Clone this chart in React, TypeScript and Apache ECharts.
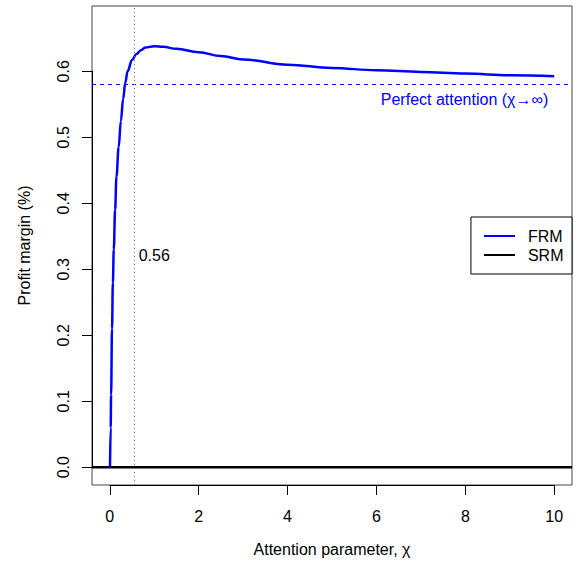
import React, { useEffect, useRef } from "react";
import * as echarts from "echarts";

// Attention parameter (chi) and FRM profit margin
const chi = [0.005, 0.02, 0.03, 0.05, 0.07, 0.09, 0.12, 0.15, 0.2, 0.25, 0.3, 0.35, 0.4, 0.5, 0.6, 0.7, 0.8, 1.0, 1.2, 1.5, 2, 2.5, 3, 4, 5, 6, 7, 8, 9, 10];
const frm = [0.0, 0.06, 0.11, 0.21, 0.28, 0.33, 0.39, 0.44, 0.485, 0.525, 0.558, 0.583, 0.6, 0.617, 0.626, 0.632, 0.636, 0.638, 0.637, 0.634, 0.629, 0.623, 0.618, 0.61, 0.605, 0.6015, 0.599, 0.5965, 0.594, 0.5924];
// SRM is zero everywhere (drawn across the full plot range)
const srmChi = [-0.4, 10.4];
const srm = [0, 0];

const perfectAttention = 0.579;
const cutoff = 0.56;
const cutoffLabelY = 0.321;
const perfectLabelY = 0.557;

const xTicks = { min: 0, max: 10, interval: 2 };
const yTicks = { min: 0, max: 0.6, interval: 0.1 };
const xRange = { min: -0.4, max: 10.4 };
const yRange = { min: -0.0269, max: 0.6989 };

const FONT = "'Liberation Sans', Arial, Helvetica, sans-serif";
const FS = 16;

export default function App() {
  const ref = useRef<HTMLDivElement>(null);
  useEffect(() => {
    if (!ref.current) return;
    const chart = echarts.init(ref.current, undefined, { renderer: "svg" });
    const frmData = chi.map((c, i) => [c, frm[i]]);
    const srmData = srmChi.map((c, i) => [c, srm[i]]);

    // plot box
    const boxL = 92, boxT = 6, boxW = 480, boxH = 479;
    const pxX = boxW / (xRange.max - xRange.min);
    const pxY = boxH / (yRange.max - yRange.min);

    chart.setOption({
      animation: false,
      textStyle: { fontFamily: FONT, fontSize: FS, color: "#000" },
      grid: [
        { left: boxL, top: boxT, width: boxW, height: boxH, show: true, borderColor: "#444", borderWidth: 1, backgroundColor: "transparent" },
        { left: boxL + (xTicks.min - xRange.min) * pxX, top: boxT, width: (xTicks.max - xTicks.min) * pxX, height: boxH },
        { left: boxL, top: boxT + (yRange.max - yTicks.max) * pxY, width: boxW, height: (yTicks.max - yTicks.min) * pxY },
      ],
      xAxis: [
        {
          gridIndex: 0, type: "value", min: xRange.min, max: xRange.max,
          axisLine: { show: false }, axisTick: { show: false }, axisLabel: { show: false }, splitLine: { show: false },
          name: "Attention parameter, χ", nameLocation: "middle", nameGap: 56,
          nameTextStyle: { fontFamily: FONT, fontSize: FS, color: "#000" },
        },
        {
          gridIndex: 1, type: "value", min: xTicks.min, max: xTicks.max, interval: xTicks.interval, position: "bottom",
          axisLine: { show: true, lineStyle: { color: "#000", width: 1 } },
          axisTick: { show: true, length: 10, lineStyle: { color: "#000", width: 1 } },
          axisLabel: { show: true, margin: 23, fontFamily: FONT, fontSize: FS, color: "#000" },
          splitLine: { show: false },
        },
        { gridIndex: 2, type: "value", show: false, min: 0, max: 1 },
      ],
      yAxis: [
        {
          gridIndex: 0, type: "value", min: yRange.min, max: yRange.max,
          axisLine: { show: false }, axisTick: { show: false }, axisLabel: { show: false }, splitLine: { show: false },
          name: "Profit margin (%)", nameLocation: "middle", nameGap: 60, nameRotate: 90,
          nameTextStyle: { fontFamily: FONT, fontSize: FS, color: "#000" },
        },
        { gridIndex: 1, type: "value", show: false, min: 0, max: 1 },
        {
          gridIndex: 2, type: "value", min: yTicks.min, max: yTicks.max, interval: yTicks.interval, position: "left",
          axisLine: { show: true, lineStyle: { color: "#000", width: 1 } },
          axisTick: { show: true, length: 10, lineStyle: { color: "#000", width: 1 } },
          axisLabel: { show: true, rotate: 90, margin: 21, fontFamily: FONT, fontSize: FS, color: "#000", formatter: (v: number) => v.toFixed(1) },
          splitLine: { show: false },
        },
      ],
      legend: {
        data: ["FRM", "SRM"],
        orient: "vertical",
        right: 7,
        top: 217,
        padding: [9.5, 8.5, 9.5, 13],
        itemGap: 0,
        itemWidth: 31,
        itemHeight: 2,
        icon: "rect",
        borderColor: "#000",
        borderWidth: 1,
        backgroundColor: "#fff",
        textStyle: { fontFamily: FONT, fontSize: FS, color: "#000", lineHeight: 19, padding: [0, 0, 0, 8] },
      },
      series: [
        {
          name: "SRM",
          type: "line",
          xAxisIndex: 0, yAxisIndex: 0,
          data: srmData,
          showSymbol: false,
          symbol: "none",
          color: "#000",
          lineStyle: { color: "#000", width: 2.5 },
          z: 3,
        },
        {
          name: "FRM",
          type: "line",
          xAxisIndex: 0, yAxisIndex: 0,
          data: frmData,
          showSymbol: false,
          symbol: "none",
          smooth: 0.4,
          smoothMonotone: "x",
          color: "#0000FF",
          lineStyle: { color: "#0000FF", width: 2.5 },
          z: 4,
          markLine: {
            silent: true,
            symbol: ["none", "none"],
            label: { show: false },
            data: [
              { yAxis: perfectAttention, lineStyle: { color: "#0000FF", width: 1, type: [4, 4] } },
              { xAxis: cutoff, lineStyle: { color: "#777", width: 1, type: [1, 3] } },
            ],
          },
          markPoint: {
            silent: true,
            symbol: "circle",
            symbolSize: 0,
            data: [
              {
                coord: [cutoff, cutoffLabelY],
                label: { show: true, position: "right", distance: 4, formatter: String(cutoff), fontFamily: FONT, fontSize: FS, color: "#000" },
              },
              {
                coord: [xTicks.max, perfectLabelY],
                label: { show: true, position: "left", distance: 6, formatter: "Perfect attention (χ→∞)", fontFamily: FONT, fontSize: FS, color: "#0000FF" },
              },
            ],
          },
        },
      ],
    });
    return () => chart.dispose();
  }, []);
  return (
    <div
      ref={ref}
      style={{ position: "absolute", left: 0, top: 0, width: 579, height: 563, background: "#fff" }}
    />
  );
}
